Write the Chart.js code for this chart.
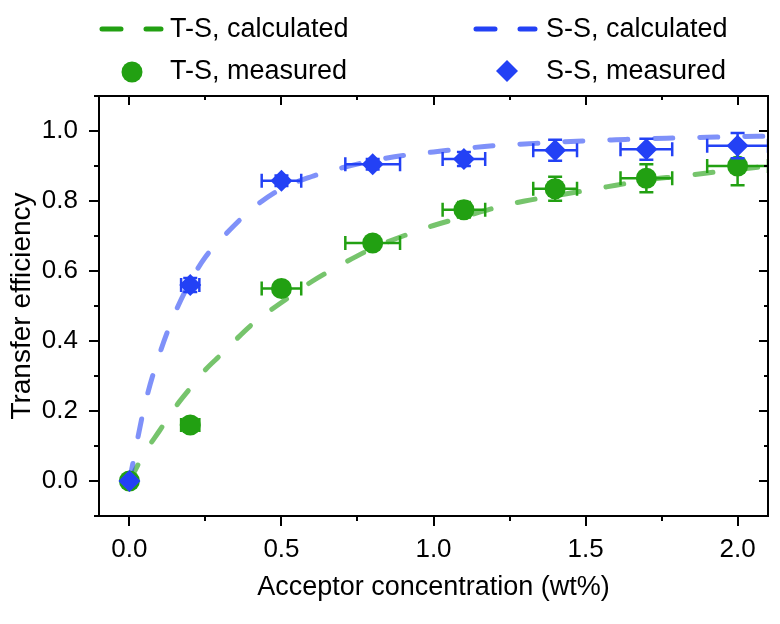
<!DOCTYPE html>
<html>
<head>
<meta charset="utf-8">
<script src="https://cdn.jsdelivr.net/npm/chart.js@4.4.1/dist/chart.umd.min.js"></script>
<style>
  html, body { margin: 0; padding: 0; background: #fff; }
  #wrap { width: 780px; height: 624px; position: relative; }
</style>
</head>
<body>
<div id="wrap"><canvas id="c" width="780" height="624"></canvas></div>
<script>
// ---- Data ----
const calcX = [0, 0.05, 0.1, 0.15, 0.2, 0.25, 0.3, 0.4, 0.5, 0.6, 0.7, 0.8, 0.9, 1.0, 1.1, 1.2, 1.3, 1.4, 1.5, 1.6, 1.7, 1.8, 1.9, 2.0, 2.1];
const tsCalc = [0, 0.08, 0.145, 0.21, 0.265, 0.318, 0.36, 0.445, 0.51, 0.57, 0.62, 0.665, 0.70, 0.73, 0.755, 0.78, 0.80, 0.815, 0.83, 0.845, 0.86, 0.87, 0.88, 0.89, 0.90];
const ssCalc = [0, 0.215, 0.365, 0.48, 0.57, 0.64, 0.69, 0.775, 0.835, 0.87, 0.895, 0.915, 0.93, 0.94, 0.95, 0.958, 0.963, 0.968, 0.972, 0.975, 0.978, 0.98, 0.982, 0.984, 0.985];

const measX = [0, 0.2, 0.5, 0.8, 1.1, 1.4, 1.7, 2.0];
const tsMeas = [0, 0.16, 0.55, 0.68, 0.775, 0.835, 0.865, 0.90];
const tsXErr = [0, 0.03, 0.065, 0.09, 0.07, 0.072, 0.085, 0.1];
const tsYErr = [0, 0.012, 0.012, 0.012, 0.022, 0.034, 0.04, 0.055];
const ssMeas = [0, 0.56, 0.858, 0.905, 0.92, 0.945, 0.948, 0.958];
const ssXErr = [0, 0.03, 0.065, 0.09, 0.07, 0.072, 0.085, 0.1];
const ssYErr = [0, 0.02, 0.015, 0.015, 0.02, 0.03, 0.03, 0.036];

const xTicks = [0, 0.25, 0.5, 0.75, 1.0, 1.25, 1.5, 1.75, 2.0];
const xMajor = [0, 0.5, 1.0, 1.5, 2.0];
const yTicks = [-0.1, 0, 0.1, 0.2, 0.3, 0.4, 0.5, 0.6, 0.7, 0.8, 0.9, 1.0, 1.1];
const yMajor = [0, 0.2, 0.4, 0.6, 0.8, 1.0];

const labels = {
  tsCalc: 'T-S, calculated', ssCalc: 'S-S, calculated',
  tsMeas: 'T-S, measured', ssMeas: 'S-S, measured'
};
const xTitle = 'Acceptor concentration (wt%)';
const yTitle = 'Transfer efficiency';

// ---- Styles ----
const GREEN = 'rgb(34,160,18)';
const BLUE = 'rgb(35,65,245)';
const GREEN_L = 'rgba(34,160,18,0.62)';
const BLUE_L = 'rgba(35,65,245,0.58)';
const FONT = "'Liberation Sans', Arial, Helvetica, sans-serif";

Chart.defaults.font.family = FONT;
Chart.defaults.color = '#000';

const isMajor = (arr, v) => arr.some(m => Math.abs(m - v) < 1e-9);
const pts = (xs, ys) => xs.map((x, i) => ({ x: x, y: ys[i] }));

const errorBars = {
  id: 'errorBars',
  beforeDatasetDraw(chart, args) {
    const ds = chart.data.datasets[args.index];
    if (!ds.errX) return;
    const xs = chart.scales.x, ys = chart.scales.y, ctx = chart.ctx;
    const a = chart.chartArea;
    ctx.save();
    ctx.beginPath(); ctx.rect(a.left, a.top, a.right - a.left, a.bottom - a.top); ctx.clip();
    ctx.strokeStyle = ds.barColor; ctx.lineWidth = 2.5; ctx.lineCap = 'butt';
    const cap = 7;
    ds.data.forEach((p, i) => {
      const ex = ds.errX[i], ey = ds.errY[i];
      const px = xs.getPixelForValue(p.x), py = ys.getPixelForValue(p.y);
      ctx.beginPath();
      if (ex > 0) {
        const x1 = xs.getPixelForValue(p.x - ex), x2 = xs.getPixelForValue(p.x + ex);
        ctx.moveTo(x1, py); ctx.lineTo(x2, py);
        ctx.moveTo(x1, py - cap); ctx.lineTo(x1, py + cap);
        ctx.moveTo(x2, py - cap); ctx.lineTo(x2, py + cap);
      }
      if (ey > 0) {
        const y1 = ys.getPixelForValue(p.y - ey), y2 = ys.getPixelForValue(p.y + ey);
        ctx.moveTo(px, y1); ctx.lineTo(px, y2);
        ctx.moveTo(px - cap, y1); ctx.lineTo(px + cap, y1);
        ctx.moveTo(px - cap, y2); ctx.lineTo(px + cap, y2);
      }
      ctx.stroke();
    });
    ctx.restore();
  }
};

const frameTicks = {
  id: 'frameTicks',
  afterDraw(chart) {
    const ctx = chart.ctx, a = chart.chartArea;
    const xs = chart.scales.x, ys = chart.scales.y;
    ctx.save();
    ctx.strokeStyle = '#000'; ctx.lineWidth = 2; ctx.lineCap = 'butt';
    ctx.beginPath();
    ctx.moveTo(a.left - 1, a.top); ctx.lineTo(a.right, a.top);
    ctx.moveTo(a.right, a.top - 1); ctx.lineTo(a.right, a.bottom + 1);
    ctx.stroke();
    ctx.beginPath();
    xTicks.forEach(v => {
      const px = Math.round(xs.getPixelForValue(v));
      const len = isMajor(xMajor, v) ? 10 : 5;
      ctx.moveTo(px, a.bottom); ctx.lineTo(px, a.bottom + len);
      ctx.moveTo(px, a.top); ctx.lineTo(px, a.top + len - 1);
    });
    yTicks.forEach(v => {
      const py = Math.round(ys.getPixelForValue(v));
      const len = isMajor(yMajor, v) ? 10 : 5;
      ctx.moveTo(a.left, py); ctx.lineTo(a.left - len, py);
      ctx.moveTo(a.right, py); ctx.lineTo(a.right - len + 1, py);
    });
    ctx.stroke();
    ctx.restore();
  }
};

const customLegend = {
  id: 'customLegend',
  afterDraw(chart) {
    const ctx = chart.ctx;
    ctx.save();
    ctx.font = '27px ' + FONT;
    ctx.fillStyle = '#000';
    ctx.textBaseline = 'middle';
    ctx.textAlign = 'left';
    // line samples
    ctx.lineWidth = 5; ctx.lineCap = 'round';
    ctx.setLineDash([19, 25]);
    ctx.strokeStyle = GREEN;
    ctx.beginPath(); ctx.moveTo(102, 29); ctx.lineTo(161, 29); ctx.stroke();
    ctx.strokeStyle = BLUE;
    ctx.beginPath(); ctx.moveTo(476, 29); ctx.lineTo(535, 29); ctx.stroke();
    ctx.setLineDash([]);
    // markers
    ctx.fillStyle = GREEN;
    ctx.beginPath(); ctx.arc(132, 72, 10.5, 0, Math.PI * 2); ctx.fill();
    ctx.fillStyle = BLUE;
    ctx.beginPath();
    ctx.moveTo(507, 60); ctx.lineTo(518, 71); ctx.lineTo(507, 82); ctx.lineTo(496, 71); ctx.closePath();
    ctx.fill();
    ctx.fillStyle = '#000';
    ctx.fillText(labels.tsCalc, 170, 30);
    ctx.fillText(labels.tsMeas, 170, 72);
    ctx.fillText(labels.ssCalc, 546, 30);
    ctx.fillText(labels.ssMeas, 546, 72);
    ctx.restore();
  }
};

new Chart(document.getElementById('c'), {
  type: 'line',
  data: {
    datasets: [
      { label: labels.ssMeas, data: pts(measX, ssMeas), showLine: false, order: 1,
        pointStyle: 'rectRot', pointRadius: 11, pointHoverRadius: 11,
        pointBackgroundColor: BLUE, pointBorderColor: BLUE, pointBorderWidth: 0,
        errX: ssXErr, errY: ssYErr, barColor: BLUE },
      { label: labels.tsMeas, data: pts(measX, tsMeas), showLine: false, order: 2,
        pointStyle: 'circle', pointRadius: 10.5, pointHoverRadius: 10.5,
        pointBackgroundColor: GREEN, pointBorderColor: GREEN, pointBorderWidth: 0,
        errX: tsXErr, errY: tsYErr, barColor: GREEN },
      { label: labels.ssCalc, data: pts(calcX, ssCalc), order: 3,
        borderColor: BLUE_L, borderWidth: 5, borderDash: [18, 27], borderCapStyle: 'round',
        pointRadius: 0, tension: 0.4, cubicInterpolationMode: 'monotone', fill: false },
      { label: labels.tsCalc, data: pts(calcX, tsCalc), order: 4,
        borderColor: GREEN_L, borderWidth: 5, borderDash: [18, 27], borderCapStyle: 'round',
        pointRadius: 0, tension: 0.4, cubicInterpolationMode: 'monotone', fill: false }
    ]
  },
  options: {
    responsive: false,
    animation: false,
    events: [],
    layout: { padding: { top: 96, right: 12, left: 0, bottom: 0 } },
    plugins: { legend: { display: false }, tooltip: { enabled: false } },
    scales: {
      x: {
        type: 'linear', min: -0.1, max: 2.1,
        afterBuildTicks: s => { s.ticks = xTicks.map(v => ({ value: v })); },
        afterFit: s => { s.height = 108; },
        ticks: {
          autoSkip: false, maxRotation: 0, padding: 18,
          font: { size: 26 }, color: '#000',
          callback: v => isMajor(xMajor, v) ? Number(v).toFixed(1) : ''
        },
        grid: { display: false, drawTicks: false, drawOnChartArea: false },
        border: { display: true, color: '#000', width: 2 },
        title: { display: true, text: xTitle, font: { size: 27 }, color: '#000', padding: { top: 0, bottom: 20 } }
      },
      y: {
        type: 'linear', min: -0.1, max: 1.1,
        afterBuildTicks: s => { s.ticks = yTicks.map(v => ({ value: v })); },
        afterFit: s => { s.width = 99; },
        ticks: {
          autoSkip: false, padding: 21,
          font: { size: 26 }, color: '#000',
          callback: v => isMajor(yMajor, v) ? Number(v).toFixed(1) : ''
        },
        grid: { display: false, drawTicks: false, drawOnChartArea: false },
        border: { display: true, color: '#000', width: 2 },
        title: { display: true, text: yTitle, font: { size: 28 }, color: '#000', padding: { top: 5, bottom: 0 } }
      }
    }
  },
  plugins: [errorBars, frameTicks, customLegend]
});
</script>
</body>
</html>
